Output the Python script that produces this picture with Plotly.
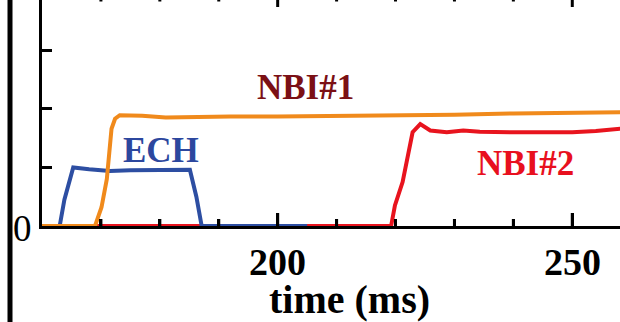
import plotly.graph_objects as go

# ---- data (time in ms, power in arbitrary units; one y tick = 1 unit) ----
ech_t = [160, 163.0, 163.8, 165.3, 168.0, 171.5, 175.0, 178.9, 182.0, 185.1, 186.2, 187.1, 205]
ech_v = [0, 0, 0.45, 1.0, 0.97, 0.94, 0.95, 0.955, 0.95, 0.96, 0.5, 0, 0]

nbi1_t = [160, 169.0, 170.1, 171.0, 171.8, 172.4, 173.2, 177, 181, 186, 192, 200, 210, 220, 225, 230, 240, 250, 258.2]
nbi1_v = [0, 0, 0.32, 0.80, 1.66, 1.83, 1.89, 1.88, 1.85, 1.86, 1.87, 1.87, 1.88, 1.89, 1.88, 1.90, 1.92, 1.93, 1.94]

nbi2_t = [160, 219.25, 219.9, 221.2, 222.9, 224.2, 225.9, 228.7, 231.5, 234.3, 240, 245.6, 250, 254, 257, 258.2]
nbi2_v = [0, 0, 0.35, 0.75, 1.60, 1.74, 1.63, 1.60, 1.63, 1.61, 1.60, 1.60, 1.60, 1.62, 1.66, 1.66]

labels = ["NBI#1", "ECH", "NBI#2"]
label_t = [204.8, 180.2, 242.1]
label_v = [2.36, 1.29, 1.06]
label_colors = ["#7B1015", "#2C479E", "#E8101E"]

x_range = [160, 258.1]
x_major = [200, 250]
x_major_text = ["200", "250"]
x_minor = [170, 180, 190, 210, 220, 230, 240]
y_range = [0, 3.857]
y_ticks = [0, 1, 2, 3]
y_ticktext = ["0", "", "", ""]

FONT = "Liberation Serif"

PX_PER_UNIT = 58.6
ML, MB = 42, 96
PW, PH = 620 - ML, 322 - MB


def px_x(p):
    return (p - ML) / PW


def px_y(p):
    return (PH - p) / PH


def segs(xs_pairs, ys_pairs):
    xs, ys = [], []
    for (xa, xb), (ya, yb) in zip(xs_pairs, ys_pairs):
        xs += [xa, xb, None]
        ys += [ya, yb, None]
    return xs, ys


def block(fig, **kw):
    """A solid black box drawn as an empty annotation (used for axis lines/ticks)."""
    fig.add_annotation(text=" ", showarrow=False, bgcolor="black", borderpad=0,
                       borderwidth=0, font=dict(size=1, color="black"), **kw)


fig = go.Figure()
fig.add_trace(go.Scatter(x=nbi2_t, y=nbi2_v, mode="lines",
                         line=dict(color="#E8141E", width=4)))
fig.add_trace(go.Scatter(x=ech_t, y=ech_v, mode="lines",
                         line=dict(color="#2D4EA2", width=4)))
fig.add_trace(go.Scatter(x=nbi1_t, y=nbi1_v, mode="lines",
                         line=dict(color="#F08A1C", width=4)))

AX = dict(color="black", width=3)
# bottom ticks (inside)
xs, ys = segs([(t, t) for t in x_major + x_minor],
              [(0, 13 / PX_PER_UNIT)] * len(x_major) + [(0, 7 / PX_PER_UNIT)] * len(x_minor))
fig.add_trace(go.Scatter(x=xs, y=ys, mode="lines", line=AX))
# top mirrored ticks (axis line itself lies just above the crop)
yt = y_range[1]
xs, ys = segs([(t, t) for t in x_major + x_minor],
              [(yt, yt - 7 / PX_PER_UNIT)] * len(x_major) + [(yt, yt - 1.5 / PX_PER_UNIT)] * len(x_minor))
fig.add_trace(go.Scatter(x=xs, y=ys, mode="lines", line=AX))

# axis lines as shapes
fig.add_shape(type="line", xref="paper", yref="paper", ysizemode="pixel", yanchor=0,
              x0=0, x1=1, y0=-1.5, y1=-1.5, line=AX, layer="above")
fig.add_shape(type="line", xref="paper", yref="paper", xsizemode="pixel", xanchor=0,
              x0=-1.5, x1=-1.5, y0=-0.01, y1=1.1, line=AX, layer="above")

# axis lines and ticks also as solid annotation boxes
block(fig, x=0, y=0, xref="paper", yref="paper", xanchor="left", yanchor="top",
      width=PW, height=3)
block(fig, x=0, y=1, xref="paper", yref="paper", xanchor="right", yanchor="top",
      width=3, height=PH + 3)
for t in x_major:
    block(fig, x=t, y=0, xref="x", yref="paper", xanchor="center", yanchor="bottom",
          width=3, height=13)
for t in x_minor:
    block(fig, x=t, y=0, xref="x", yref="paper", xanchor="center", yanchor="bottom",
          width=3, height=7)
for v in y_ticks[1:]:
    block(fig, x=0, y=v, xref="paper", yref="y", xanchor="left", yanchor="middle",
          width=10, height=3)

# thick vertical line at far left (edge of the neighbouring panel)
fig.add_shape(type="line", xref="paper", yref="paper",
              x0=px_x(10), x1=px_x(10), y0=-0.6, y1=1.1,
              line=dict(color="black", width=5))

for txt, t, v, c in zip(labels, label_t, label_v, label_colors):
    fig.add_annotation(x=t, y=v, xref="x", yref="y", text="<b>" + txt + "</b>",
                       showarrow=False, font=dict(family=FONT, size=35, color=c),
                       xanchor="center", yanchor="middle")

for t, s in zip(x_major, x_major_text):
    fig.add_annotation(x=t, y=px_y(262), xref="x", yref="paper", text="<b>" + s + "</b>",
                       showarrow=False, font=dict(family=FONT, size=38, color="black"),
                       xanchor="center", yanchor="middle")

fig.add_annotation(x=px_x(349), y=px_y(299), xref="paper", yref="paper",
                   text="<b>time (ms)</b>", showarrow=False,
                   font=dict(family=FONT, size=40, color="black"),
                   xanchor="center", yanchor="middle")

fig.add_annotation(x=px_x(22.5), y=px_y(229), xref="paper", yref="paper",
                   text=y_ticktext[0], showarrow=False,
                   font=dict(family=FONT, size=37, color="black"),
                   xanchor="center", yanchor="middle")

fig.update_layout(
    width=620, height=322,
    margin=dict(l=ML, r=0, t=0, b=MB),
    paper_bgcolor="white", plot_bgcolor="white",
    showlegend=False,
    hovermode=False,
    xaxis=dict(range=x_range, showgrid=False, zeroline=False,
               showline=True, linecolor="black", linewidth=3,
               ticks="inside", ticklen=13, tickwidth=3, tickcolor="black",
               tickvals=x_major, showticklabels=False,
               minor=dict(tickvals=x_minor, ticks="inside", ticklen=7,
                          tickwidth=3, tickcolor="black")),
    yaxis=dict(range=y_range, showgrid=False, zeroline=False,
               showline=True, linecolor="black", linewidth=3,
               ticks="inside", ticklen=10, tickwidth=3, tickcolor="black",
               tickvals=y_ticks, showticklabels=False),
)

fig.write_html("out.html")
